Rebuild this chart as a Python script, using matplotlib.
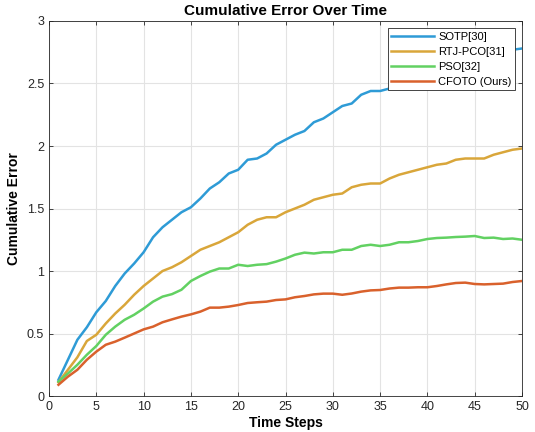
import numpy as np
import matplotlib
matplotlib.use("Agg")
import matplotlib.pyplot as plt

plt.rcParams['font.family'] = ['Liberation Sans', 'DejaVu Sans']

# data
steps = np.arange(1, 51)

sotp = [0.13, 0.29, 0.45, 0.55, 0.67, 0.76, 0.88, 0.98, 1.06, 1.15,
        1.27, 1.35, 1.41, 1.47, 1.51, 1.58, 1.66, 1.71, 1.78, 1.81,
        1.89, 1.90, 1.94, 2.01, 2.05, 2.09, 2.12, 2.19, 2.22, 2.27,
        2.32, 2.34, 2.41, 2.44, 2.44, 2.46, 2.48, 2.50, 2.53, 2.55,
        2.57, 2.60, 2.62, 2.64, 2.67, 2.69, 2.72, 2.74, 2.77, 2.78]

rtj_pco = [0.11, 0.21, 0.31, 0.44, 0.49, 0.58, 0.66, 0.73, 0.81, 0.88,
           0.94, 1.00, 1.03, 1.07, 1.12, 1.17, 1.20, 1.23, 1.27, 1.31,
           1.37, 1.41, 1.43, 1.43, 1.47, 1.50, 1.53, 1.57, 1.59, 1.61,
           1.62, 1.67, 1.69, 1.70, 1.70, 1.74, 1.77, 1.79, 1.81, 1.83,
           1.85, 1.86, 1.89, 1.90, 1.90, 1.90, 1.93, 1.95, 1.97, 1.98]

pso = [0.115, 0.18, 0.25, 0.33, 0.40, 0.49, 0.555, 0.61, 0.65, 0.70,
       0.755, 0.795, 0.815, 0.85, 0.92, 0.96, 0.995, 1.02, 1.02, 1.05,
       1.04, 1.05, 1.055, 1.075, 1.10, 1.13, 1.147, 1.14, 1.15, 1.15,
       1.17, 1.17, 1.20, 1.21, 1.20, 1.21, 1.23, 1.23, 1.24, 1.256,
       1.264, 1.267, 1.272, 1.275, 1.28, 1.264, 1.267, 1.256, 1.26, 1.25]

cfoto = [0.09, 0.155, 0.21, 0.29, 0.355, 0.41, 0.435, 0.467, 0.50, 0.533,
         0.555, 0.59, 0.613, 0.635, 0.653, 0.675, 0.707, 0.707, 0.715, 0.728,
         0.744, 0.75, 0.755, 0.768, 0.773, 0.79, 0.80, 0.813, 0.819, 0.819,
         0.81, 0.82, 0.835, 0.845, 0.848, 0.86, 0.867, 0.867, 0.87, 0.87,
         0.88, 0.893, 0.904, 0.907, 0.896, 0.893, 0.896, 0.899, 0.912, 0.92]

labels = ["SOTP[30]", "RTJ-PCO[31]", "PSO[32]", "CFOTO (Ours)"]
colors = ["#2E9BD6", "#D9A63A", "#62D162", "#D9612C"]

fig = plt.figure(figsize=(5.35, 4.32), dpi=100)
ax = fig.add_axes([0.0916, 0.0833, 0.8841, 0.8681])

for series, lab, col in zip([sotp, rtj_pco, pso, cfoto], labels, colors):
    ax.plot(steps, series, color=col, linewidth=1.8, label=lab)

ax.set_xlim(0, 50)
ax.set_ylim(0, 3)
ax.set_xticks(np.arange(0, 51, 5))
ax.set_yticks([0, 0.5, 1, 1.5, 2, 2.5, 3])
ax.set_yticklabels(["0", "0.5", "1", "1.5", "2", "2.5", "3"])
ax.grid(True, color="#E3E3E3", linewidth=0.8)
ax.set_axisbelow(True)
for sp in ax.spines.values():
    sp.set_color("#262626")
    sp.set_linewidth(0.6)
ax.tick_params(direction="in", length=3, width=0.6, colors="#262626", labelsize=9,
               top=True, right=True)

ax.set_title("Cumulative Error Over Time", fontsize=11, fontweight="bold", pad=4)
ax.set_xlabel("Time Steps", fontsize=10, fontweight="bold", labelpad=2)
ax.set_ylabel("Cumulative Error", fontsize=10, fontweight="bold", labelpad=4)

leg = ax.legend(loc="upper right", fontsize=8, fancybox=False, framealpha=1,
                edgecolor="#262626", handlelength=3.8, borderpad=0.35,
                labelspacing=0.45, handletextpad=0.4, borderaxespad=0.6)
leg.get_frame().set_linewidth(0.6)

fig.savefig("out.png", dpi=100)
